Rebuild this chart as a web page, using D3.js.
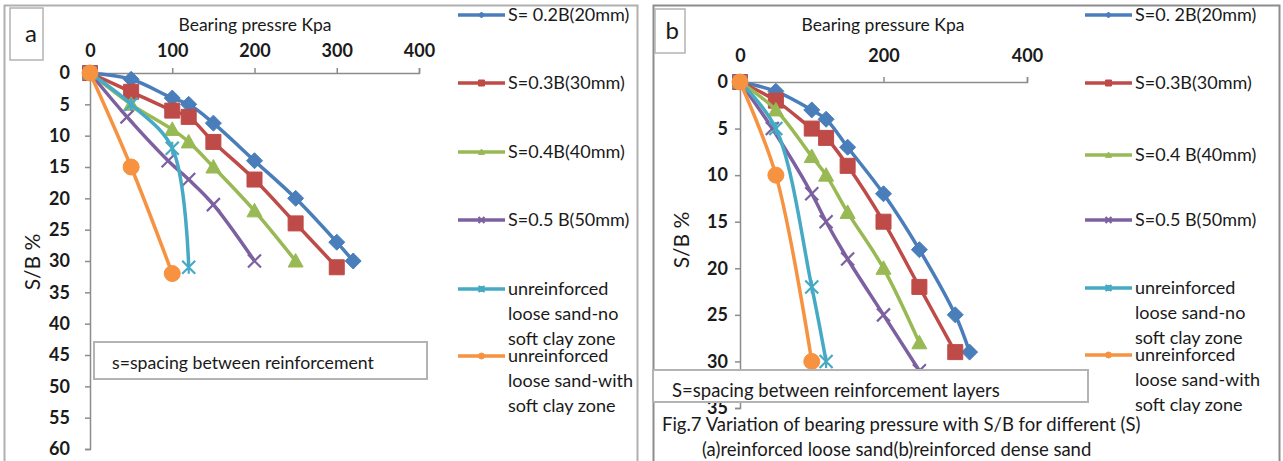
<!DOCTYPE html>
<html>
<head>
<meta charset="utf-8">
<script src="https://cdn.jsdelivr.net/npm/d3@7"></script>
<style>
  html, body { margin: 0; padding: 0; background: #fff; }
  svg { display: block; }
  text { font-family: Lato, "Open Sans", sans-serif; fill: #1a1a1a; }
</style>
</head>
<body>
<svg id="chart" width="1283" height="461"></svg>
<script>
// ---- data: bearing pressure (kPa) against settlement ratio S/B (%) ----
const seriesKeys = ["s20", "s30", "s40", "s50", "noClay", "softClay"];
const seriesColors = ["#4a7ebb", "#be4b48", "#98b954", "#7d60a0", "#46aac5", "#f69240"];
const seriesMarkers = ["diamond", "square", "triangle", "cross", "asterisk", "circle"];

const legendLabelsA = [
  ["S= 0.2B(20mm)"], ["S=0.3B(30mm)"], ["S=0.4B(40mm)"], ["S=0.5 B(50mm)"],
  ["unreinforced", "loose sand-no", "soft clay zone"],
  ["unreinforced", "loose sand-with", "soft clay zone"]
];
const legendLabelsB = [
  ["S=0. 2B(20mm)"], ["S=0.3B(30mm)"], ["S=0.4 B(40mm)"], ["S=0.5 B(50mm)"],
  ["unreinforced", "loose sand-no", "soft clay zone"],
  ["unreinforced", "loose sand-with", "soft clay zone"]
];

// (a) reinforced loose sand
const looseS20 = [[0,0],[50,1],[100,4],[120,5],[150,8],[200,14],[250,20],[300,27],[320,30]];
const looseS30 = [[0,0],[50,3],[100,6],[120,7],[150,11],[200,17],[250,24],[300,31]];
const looseS40 = [[0,0],[50,5],[100,9],[120,11],[150,15],[200,22],[250,30]];
const looseS50 = [[0,0],[45,7],[95,14],[120,17],[150,21],[200,30]];
const looseNoClay = [[0,0],[50,5],[100,12],[120,31]];
const looseSoftClay = [[0,0],[50,15],[100,32]];

// (b) reinforced dense sand
const denseS20 = [[0,0],[50,1],[100,3],[120,4],[150,7],[200,12],[250,18],[300,25],[320,29]];
const denseS30 = [[0,0],[50,2],[100,5],[120,6],[150,9],[200,15],[250,22],[300,29]];
const denseS40 = [[0,0],[50,3],[100,8],[120,10],[150,14],[200,20],[250,28]];
const denseS50 = [[0,0],[45,5],[100,12],[120,15],[150,19],[200,25],[250,31]];
const denseNoClay = [[0,0],[50,5],[100,22],[120,30]];
const denseSoftClay = [[0,0],[50,10],[100,30]];

const pressureTicksA = [0, 100, 200, 300, 400];
const ratioTicksA = [0, 5, 10, 15, 20, 25, 30, 35, 40, 45, 50, 55, 60];
const pressureTicksB = [0, 200, 400];
const ratioTicksB = [0, 5, 10, 15, 20, 25, 30, 35];

const svg = d3.select("#chart");

// ---- panel frames ----
svg.append("rect").attr("x", 4.5).attr("y", 5.5).attr("width", 633).attr("height", 470)
  .attr("fill", "#fff").attr("stroke", "#b0b0b0").attr("stroke-width", 2);
svg.append("rect").attr("x", 653.5).attr("y", 5.5).attr("width", 626).attr("height", 470)
  .attr("fill", "#fff").attr("stroke", "#8c8c8c").attr("stroke-width", 2);

function markerPath(type, size) {
  const r = size / 2;
  switch (type) {
    case "diamond": return `M0,${-r}L${r},0L0,${r}L${-r},0Z`;
    case "square": return `M${-r},${-r}H${r}V${r}H${-r}Z`;
    case "triangle": return `M0,${-r}L${r},${r*0.8}L${-r},${r*0.8}Z`;
    case "cross": return `M${-r},${-r}L${r},${r}M${-r},${r}L${r},${-r}`;
    case "asterisk": return `M${-r},${-r}L${r},${r}M${-r},${r}L${r},${-r}M0,${-r}V${r}`;
    default: return d3.symbol(d3.symbolCircle, Math.PI * r * r)();
  }
}

function drawMarker(g, type, color, size) {
  const open = type === "cross" || type === "asterisk";
  g.append("path").attr("d", markerPath(type, size))
    .attr("fill", open ? "none" : color)
    .attr("stroke", color)
    .attr("stroke-width", open ? 2.2 : 1);
}

const markerSizes = [16, 15, 15, 13, 13, 16];

function drawPanel(cfg) {
  const x = d3.scaleLinear().domain([0, 400]).range(cfg.xRange);
  const y = d3.scaleLinear().domain(cfg.yDomain).range(cfg.yRange);
  const g = svg.append("g");

  // label box
  g.append("rect").attr("x", cfg.tag.x).attr("y", cfg.tag.y).attr("width", cfg.tag.w).attr("height", cfg.tag.h)
    .attr("fill", "#fff").attr("stroke", "#b3b3b3").attr("stroke-width", 1.5);
  g.append("text").attr("x", cfg.tag.x + cfg.tag.w - 6).attr("y", cfg.tag.y + cfg.tag.h / 2 + 8)
    .attr("text-anchor", "end").attr("font-size", 24).text(cfg.tag.label);

  // axes
  const xAxis = g.append("g").attr("transform", `translate(0,${cfg.yRange[0]})`)
    .call(d3.axisTop(x).tickValues(cfg.xTicks).tickSize(5).tickPadding(cfg.xPad).tickFormat(d3.format("d")));
  const yAxis = g.append("g").attr("transform", `translate(${cfg.xRange[0]},0)`)
    .call(d3.axisLeft(y).tickValues(cfg.yTicks).tickSize(5).tickPadding(cfg.yPad).tickFormat(d3.format("d")));
  [xAxis, yAxis].forEach(a => {
    a.select(".domain").attr("stroke", "#8c8c8c").attr("stroke-width", 1.5);
    a.selectAll(".tick line").attr("stroke", "#8c8c8c").attr("stroke-width", 1.5);
    a.selectAll(".tick text").attr("font-size", 18).attr("font-weight", 700)
      .attr("font-family", "Lato, sans-serif").attr("fill", "#1a1a1a");
  });
  xAxis.selectAll(".tick").filter(d => d === 0).select("line").remove();

  // axis titles
  g.append("text").attr("x", cfg.xTitle.x).attr("y", cfg.xTitle.y).attr("text-anchor", "middle")
    .attr("font-size", 17.5).text(cfg.xTitle.text);
  g.append("text").attr("transform", `translate(${cfg.yTitle.x},${cfg.yTitle.y}) rotate(-90)`)
    .attr("text-anchor", "middle").attr("font-size", 21).text("S/B %");

  // series
  const line = d3.line().x(d => x(d[0])).y(d => y(d[1])).curve(d3.curveCatmullRom);
  cfg.series.forEach((data, i) => {
    const color = seriesColors[i];
    g.append("path").attr("d", line(data)).attr("fill", "none")
      .attr("stroke", color).attr("stroke-width", 3.5).attr("stroke-linejoin", "round");
    g.selectAll(null).data(data).join("g")
      .attr("transform", d => `translate(${x(d[0])},${y(d[1])})`)
      .each(function () { drawMarker(d3.select(this), seriesMarkers[i], color, markerSizes[i]); });
  });

  // note box
  g.append("rect").attr("x", cfg.note.x).attr("y", cfg.note.y).attr("width", cfg.note.w).attr("height", cfg.note.h)
    .attr("fill", "#fff").attr("stroke", "#b3b3b3").attr("stroke-width", 2);
  g.append("text").attr("x", cfg.note.tx).attr("y", cfg.note.ty).attr("font-size", cfg.note.size).text(cfg.note.text);

  // legend
  const lg = g.append("g");
  cfg.legendLabels.forEach((lines, i) => {
    const ly = cfg.legend.ys[i];
    lg.append("line").attr("x1", cfg.legend.x).attr("x2", cfg.legend.x + 47)
      .attr("y1", ly).attr("y2", ly).attr("stroke", seriesColors[i]).attr("stroke-width", 3.5);
    const m = lg.append("g").attr("transform", `translate(${cfg.legend.x + 23.5},${ly})`);
    drawMarker(m, seriesMarkers[i], seriesColors[i], 6);
    lines.forEach((t, k) => {
      lg.append("text").attr("x", cfg.legend.x + 50).attr("y", ly + 6 + k * 25)
        .attr("font-size", 18).text(t);
    });
  });
}

drawPanel({
  xRange: [90, 419], yDomain: [0, 60], yRange: [73, 449],
  xTicks: pressureTicksA, yTicks: ratioTicksA, xPad: 11, yPad: 15,
  tag: { x: 10, y: 8, w: 33, h: 52, label: "a" },
  xTitle: { x: 255, y: 31, text: "Bearing pressre Kpa" },
  yTitle: { x: 40, y: 262 },
  series: [looseS20, looseS30, looseS40, looseS50, looseNoClay, looseSoftClay],
  note: { x: 94, y: 342, w: 333, h: 37, tx: 112, ty: 369, size: 17.7, text: "s=spacing between reinforcement" },
  legendLabels: legendLabelsA,
  legend: { x: 458, ys: [15, 83, 152, 220, 289, 356] }
});

drawPanel({
  xRange: [740, 1027], yDomain: [0, 35], yRange: [82, 408],
  xTicks: pressureTicksB, yTicks: ratioTicksB, xPad: 15, yPad: 7,
  tag: { x: 655, y: 9, w: 30, h: 44, label: "b" },
  xTitle: { x: 883, y: 31, text: "Bearing pressure Kpa" },
  yTitle: { x: 689, y: 240 },
  series: [denseS20, denseS30, denseS40, denseS50, denseNoClay, denseSoftClay],
  note: { x: 653, y: 370, w: 435, h: 32, tx: 672, ty: 397, size: 18.5, text: "S=spacing between reinforcement layers" },
  legendLabels: legendLabelsB,
  legend: { x: 1085, ys: [15, 83, 155, 220, 288, 355] }
});

// figure caption
svg.append("text").attr("x", 662).attr("y", 431).attr("font-size", 18.5)
  .text("Fig.7 Variation of bearing pressure with S/B for different (S)");
svg.append("text").attr("x", 702).attr("y", 456).attr("font-size", 18.5)
  .text("(a)reinforced loose sand(b)reinforced dense sand");
</script>
</body>
</html>
